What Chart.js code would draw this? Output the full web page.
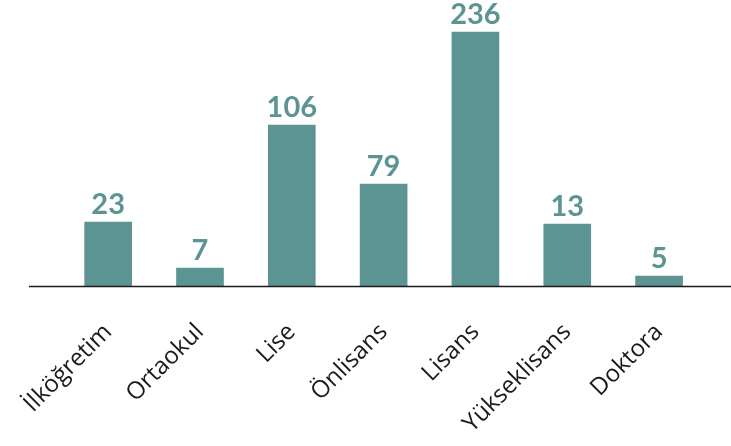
<!DOCTYPE html>
<html>
<head>
<meta charset="utf-8">
<script src="https://cdn.jsdelivr.net/npm/chart.js@4.4.1/dist/chart.umd.min.js"></script>
<style>
  html, body { margin: 0; padding: 0; background: #fff; }
  #wrap { width: 731px; height: 446px; }
</style>
</head>
<body>
<div id="wrap"><canvas id="chart"></canvas></div>
<script>
// --- DATA ---
const categories = ['İlköğretim', 'Ortaokul', 'Lise', 'Önlisans', 'Lisans', 'Yükseklisans', 'Doktora'];
// numbers printed over the bars
const values = [23, 7, 106, 79, 236, 13, 5];
// bar heights as drawn in the picture (they do not follow the printed numbers)
const barHeights = [64, 18, 161, 102, 254, 62, 10];

const TEAL = '#5b9493';

// value labels above each bar
const valueLabels = {
    id: 'valueLabels',
    afterDatasetsDraw(chart) {
        const ctx = chart.ctx;
        const meta = chart.getDatasetMeta(0);
        ctx.save();
        ctx.fillStyle = TEAL;
        ctx.font = 'bold 29px Lato';
        ctx.textAlign = 'center';
        ctx.textBaseline = 'alphabetic';
        meta.data.forEach((bar, i) => {
            ctx.fillText(String(values[i]), bar.x, bar.y - 8);
        });
        ctx.restore();
    }
};

// baseline running across the full width
const baseLine = {
    id: 'baseLine',
    afterDatasetsDraw(chart) {
        const ctx = chart.ctx;
        const y = chart.scales.y.getPixelForValue(0);
        ctx.save();
        ctx.strokeStyle = '#1a1a1a';
        ctx.lineWidth = 1.5;
        ctx.beginPath();
        ctx.moveTo(29, y + 0.5);
        ctx.lineTo(chart.width, y + 0.5);
        ctx.stroke();
        ctx.restore();
    }
};

new Chart(document.getElementById('chart'), {
    type: 'bar',
    data: {
        labels: categories,
        datasets: [{
            data: barHeights,
            backgroundColor: TEAL,
            barThickness: 47
        }]
    },
    options: {
        responsive: true,
        maintainAspectRatio: false,
        animation: false,
        layout: { padding: { left: 60, right: 26, top: 0, bottom: 0 } },
        plugins: { legend: { display: false }, tooltip: { enabled: false } },
        scales: {
            x: {
                grid: { display: false },
                border: { display: false },
                ticks: {
                    color: '#1a1a1a',
                    font: { family: 'Open Sans', size: 24 },
                    minRotation: 45,
                    maxRotation: 45,
                    padding: 24
                },
                afterFit(scale) { scale.height = 160; }
            },
            y: {
                display: false,
                min: 0,
                max: 286
            }
        }
    },
    plugins: [valueLabels, baseLine]
});
</script>
</body>
</html>
